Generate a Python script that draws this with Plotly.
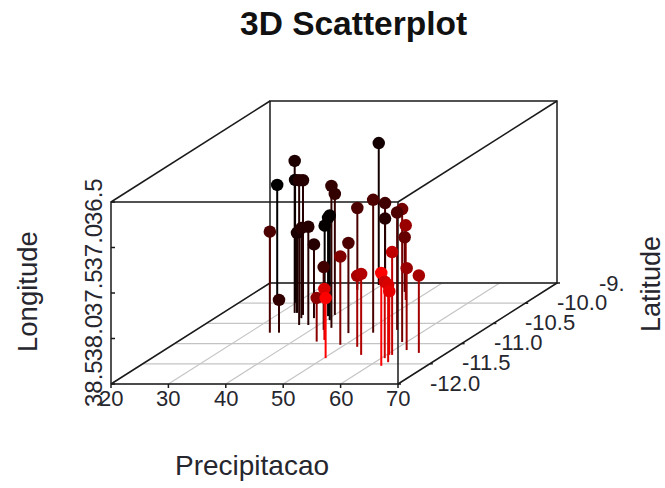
import plotly.graph_objects as go

precip = [39.5,32.5,24.8,29.8,36.6,34.5,43.0,40.05,51.6,40.6,37.1,59.2,55.0,40.6,48.3,45.9,62.2,65.1,33.6,32.9,35.1,38.2,37.3,37.5,39.2,40.6,47.4,61.0,49.2,42.2,52.7,55.6,62.1,60.6,62.3,60.5,35.2,44.2,45.1,50.3]
latitude = [-9.55,-10.24,-9.82,-9.99,-10.54,-10.29,-10.61,-10.29,-10.73,-9.55,-9.67,-10.96,-10.66,-9.55,-9.92,-9.72,-11.16,-11.23,-10.73,-10.24,-10.37,-10.54,-10.37,-10.22,-10.32,-10.42,-10.74,-11.28,-11.03,-10.66,-11.08,-11.28,-11.55,-11.36,-11.46,-11.28,-10.73,-10.95,-10.91,-11.36]
longitude = [36.94,36.83,37.28,37.15,36.91,37.02,36.94,37.17,37.04,37.60,37.60,37.04,37.21,37.77,37.68,37.90,37.60,37.65,37.39,37.62,37.51,37.42,37.69,37.55,37.42,37.35,37.51,37.37,37.53,37.81,37.72,37.61,37.48,37.66,37.65,37.80,38.14,38.02,37.94,37.84]
shade = [.08,.12,0,.05,.15,.15,.2,.2,.3,.25,.3,.45,.3,.15,.6,.4,.6,.65,.3,.1,.15,.15,.15,.02,.02,.02,.3,.75,.5,.25,.65,.7,1,.8,.85,.9,.2,.55,.85,1]

x_ticks = [20,30,40,50,60,70]
lat_ticks = [-12.0,-11.5,-11.0,-10.5,-10.0,-9.5]
lat_labels = ["-12.0","-11.5","-11.0","-10.5","-10.0","-9."]
z_ticks = [38.5,38.0,37.5,37.0,36.5]

X0,X1 = 20,70
L0,L1 = -12.0,-9.5
Z0,Z1 = 38.5,36.5

def px(p,l):
    return 111 + (p-X0)*287/(X1-X0) + (l-L0)*159/(L1-L0)
def py(l,z):
    return 384 - (l-L0)*101/(L1-L0) - (Z0-z)*182/(Z0-Z1)

def line(pts,color,width,dash=None):
    return go.Scatter(x=[None if a is None else px(a[0],a[1]) for a in pts],
                      y=[None if a is None else py(a[1],a[2]) for a in pts],
                      mode="lines",line=dict(color=color,width=width,dash=dash),
                      hoverinfo="skip",showlegend=False)

def red(s):
    return f"rgb({int(255*s)},0,0)"

fig = go.Figure()
grid=[]
for l in lat_ticks:
    grid += [(X0,l,Z0),(X1,l,Z0),None]
for p in x_ticks:
    grid += [(p,L0,Z0),(p,L1,Z0),None]
fig.add_trace(line(grid,"#c4c4c4",1.2))

box=[(X0,L0,Z0),(X1,L0,Z0),(X1,L0,Z1),(X0,L0,Z1),(X0,L0,Z0),None,
     (X0,L1,Z0),(X1,L1,Z0),(X1,L1,Z1),(X0,L1,Z1),(X0,L1,Z0),None,
     (X0,L0,Z0),(X0,L1,Z0),None,(X1,L0,Z0),(X1,L1,Z0),None,
     (X0,L0,Z1),(X0,L1,Z1),None,(X1,L0,Z1),(X1,L1,Z1)]
fig.add_trace(line(box,"#1a1a1a",1.5))

for p,l,z,s in zip(precip,latitude,longitude,shade):
    fig.add_trace(line([(p,l,Z0),(p,l,z)],red(s),2))

fig.add_trace(go.Scatter(
    x=[px(p,l) for p,l in zip(precip,latitude)],
    y=[py(l,z) for l,z in zip(latitude,longitude)],
    mode="markers",
    marker=dict(size=12.5,color=shade,colorscale=[[0,"#000000"],[1,"#ff0000"]],cmin=0,cmax=1,line=dict(width=0)),
    hoverinfo="skip",showlegend=False))

# tick marks
xm=[];ym=[]
for p in x_ticks:
    xm += [px(p,L0),px(p,L0),None]; ym += [py(L0,Z0),py(L0,Z0)+4,None]
for z in z_ticks:
    xm += [px(X0,L0),px(X0,L0)+4,None]; ym += [py(L0,z),py(L0,z),None]
for l in lat_ticks:
    xm += [px(X1,l),px(X1,l)+3,None]; ym += [py(l,Z0),py(l,Z0),None]
fig.add_trace(go.Scatter(x=xm,y=ym,mode="lines",line=dict(color="#1a1a1a",width=1.5),hoverinfo="skip",showlegend=False))

FONT="Liberation Sans"
TC="#26262e"
anns=[]
def ann(x,y,t,size,angle=0,xanchor="center",bold=False,color=TC):
    anns.append(dict(x=x,y=y,xref="x",yref="y",text=f"<b>{t}</b>" if bold else t,showarrow=False,
                     font=dict(family=FONT,size=size,color=color),textangle=angle,
                     xanchor=xanchor,yanchor="middle"))
for p in x_ticks:
    ann(px(p,L0),py(L0,Z0)+14,str(p),22)
for z in z_ticks:
    ann(px(X0,L0)-18,py(L0,z),f"{z:.1f}",24,angle=-90)
for l,t in zip(lat_ticks,lat_labels):
    if t=="-9.":
        ann(px(X1,l)+40,py(l,Z0),t,22,xanchor="left")
    else:
        ann(px(X1,l)+57,py(l,Z0)-1,t,22)
ann(353,23,"3D Scatterplot",33.5,bold=True,color="#111111")
ann(252,465,"Precipitacao",28)
ann(27,292,"Longitude",27.5,angle=-90)
ann(651,284,"Latitude",27,angle=-90)

fig.update_layout(width=665,height=488,margin=dict(l=0,r=0,t=0,b=0),
    paper_bgcolor="white",plot_bgcolor="white",showlegend=False,annotations=anns,
    xaxis=dict(range=[0,665],visible=False,fixedrange=True),
    yaxis=dict(range=[488,0],visible=False,fixedrange=True))
fig.write_html("out.html",config={"displayModeBar":False,"responsive":False},
               post_script="document.body.style.margin='0';document.body.style.overflow='hidden';")
